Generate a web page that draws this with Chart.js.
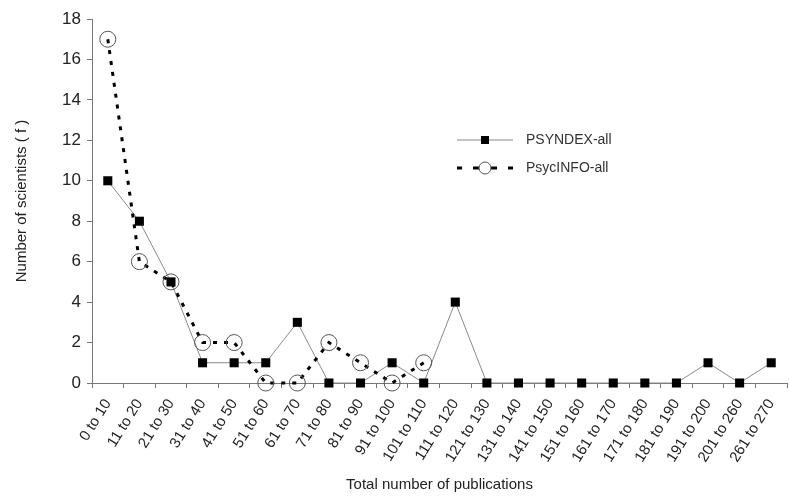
<!DOCTYPE html>
<html>
<head>
<meta charset="utf-8">
<script src="https://cdn.jsdelivr.net/npm/chart.js@4/dist/chart.umd.min.js"></script>
<style>
  html, body { margin: 0; padding: 0; background: #fff; overflow: hidden; width: 789px; height: 497px; }
  canvas { display: block; }
</style>
</head>
<body>
<canvas id="chart" width="796" height="497"></canvas>
<script>
// categories on the x axis
const categories = [
  '0 to 10', '11 to 20', '21 to 30', '31 to 40', '41 to 50', '51 to 60',
  '61 to 70', '71 to 80', '81 to 90', '91 to 100', '101 to 110', '111 to 120',
  '121 to 130', '131 to 140', '141 to 150', '151 to 160', '161 to 170',
  '171 to 180', '181 to 190', '191 to 200', '201 to 260', '261 to 270'
];

// series values (number of scientists)
const psyndexAll = [10, 8, 5, 1, 1, 1, 3, 0, 0, 1, 0, 4, 0, 0, 0, 0, 0, 0, 0, 1, 0, 1];
const psycinfoAll = [17, 6, 5, 2, 2, 0, 0, 2, 1, 0, 1, null, null, null, null, null, null, null, null, null, null, null];

// y tick labels
const yTickValues = [0, 2, 4, 6, 8, 10, 12, 14, 16, 18];

const FONT = '"Liberation Sans", Arial, sans-serif';
const TEXT = '#222';
const AXIS = '#777';

// legend drawn inside the plot, like the original
const insideLegend = {
  id: 'insideLegend',
  afterDatasetsDraw(chart) {
    const ctx = chart.ctx;
    ctx.save();
    ctx.font = '14px ' + FONT;
    ctx.fillStyle = TEXT;
    ctx.textBaseline = 'middle';

    // PSYNDEX-all
    let y = 140;
    ctx.strokeStyle = '#888';
    ctx.lineWidth = 1;
    ctx.beginPath();
    ctx.moveTo(457, y);
    ctx.lineTo(513, y);
    ctx.stroke();
    ctx.fillStyle = '#000';
    ctx.fillRect(481, y - 4, 8, 8);
    ctx.fillStyle = '#333';
    ctx.fillText('PSYNDEX-all', 526, y);

    // PsycINFO-all
    y = 168;
    ctx.strokeStyle = '#000';
    ctx.lineWidth = 3;
    ctx.beginPath();
    ctx.moveTo(457, y); ctx.lineTo(462, y);
    ctx.moveTo(473, y); ctx.lineTo(497, y);
    ctx.moveTo(508, y); ctx.lineTo(513, y);
    ctx.stroke();
    ctx.fillStyle = '#fff';
    ctx.strokeStyle = '#555';
    ctx.lineWidth = 1;
    ctx.beginPath();
    ctx.arc(485, y, 6, 0, Math.PI * 2);
    ctx.fill();
    ctx.stroke();
    ctx.fillStyle = '#333';
    ctx.fillText('PsycINFO-all', 526, y);
    ctx.restore();
  }
};

new Chart(document.getElementById('chart'), {
  type: 'line',
  data: {
    labels: categories,
    datasets: [
      {
        label: 'PsycINFO-all',
        data: psycinfoAll,
        borderColor: '#000',
        borderWidth: 3,
        borderDash: [4, 7],
        tension: 0,
        spanGaps: false,
        pointStyle: 'circle',
        pointRadius: 8,
        pointBackgroundColor: 'rgba(0,0,0,0)',
        pointBorderColor: '#555',
        pointBorderWidth: 1,
        clip: false
      },
      {
        label: 'PSYNDEX-all',
        data: psyndexAll,
        borderColor: '#8a8a8a',
        borderWidth: 1,
        tension: 0,
        pointStyle: 'rect',
        pointRadius: 6.4,
        pointBackgroundColor: '#000',
        pointBorderColor: '#000',
        pointBorderWidth: 0,
        clip: false
      }
    ]
  },
  options: {
    responsive: false,
    animation: false,
    layout: { padding: { top: 19, right: 2, bottom: 0, left: 0 } },
    plugins: {
      legend: { display: false },
      tooltip: { enabled: false }
    },
    scales: {
      x: {
        type: 'category',
        offset: true,
        grid: {
          offset: true,
          drawOnChartArea: false,
          drawTicks: true,
          tickLength: 5,
          color: AXIS
        },
        border: { display: true, color: AXIS, width: 1 },
        ticks: {
          color: TEXT,
          font: { family: FONT, size: 15 },
          minRotation: 58,
          maxRotation: 58,
          autoSkip: false,
          padding: 8
        },
        title: {
          display: true,
          text: 'Total number of publications',
          color: TEXT,
          font: { family: FONT, size: 15 },
          padding: { top: 0, bottom: 3 }
        },
        afterFit(scale) { scale.height = 114; }
      },
      y: {
        min: 0,
        max: 18,
        afterBuildTicks(scale) { scale.ticks = yTickValues.map(v => ({ value: v })); },
        grid: {
          drawOnChartArea: false,
          drawTicks: true,
          tickLength: 5,
          color: AXIS
        },
        border: { display: true, color: AXIS, width: 1 },
        ticks: {
          color: TEXT,
          font: { family: FONT, size: 17 },
          padding: 6
        },
        title: {
          display: true,
          text: 'Number of scientists ( f )',
          color: TEXT,
          font: { family: FONT, size: 15 },
          padding: { top: 13, bottom: 0 }
        },
        afterFit(scale) { scale.width = 92; }
      }
    }
  },
  plugins: [insideLegend]
});
</script>
</body>
</html>
